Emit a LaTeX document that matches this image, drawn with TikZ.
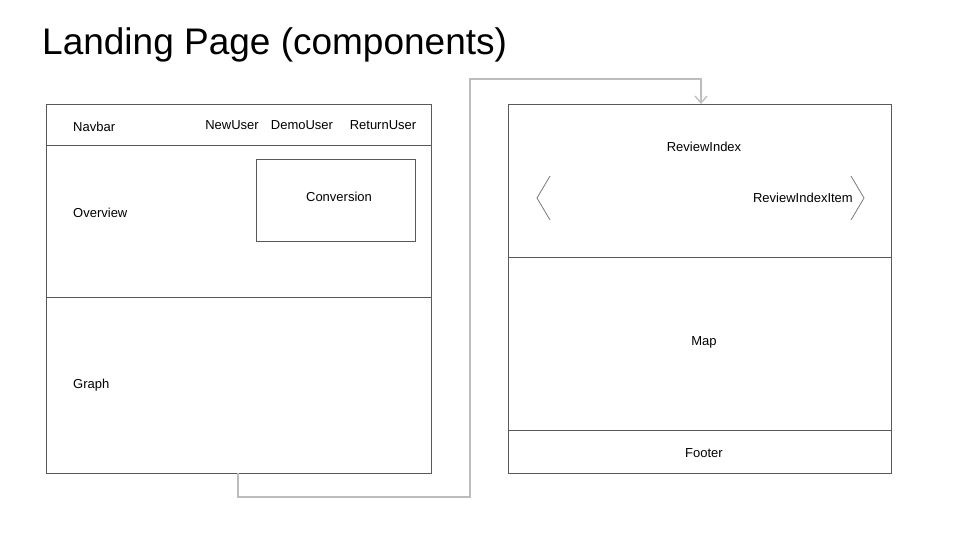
\documentclass[tikz,border=0pt]{standalone}
\usepackage{fontspec}
\setmainfont{Liberation Sans}
\usetikzlibrary{arrows.meta}
\definecolor{frame}{HTML}{595959}
\definecolor{link}{HTML}{BDBDBD}
\begin{document}
\begin{tikzpicture}[x=1pt,y=-1pt,
  panel/.style={draw=frame,line width=1pt,rectangle,inner sep=0pt,anchor=north west},
  sep/.style={draw=frame,line width=1pt},
  lbl/.style={inner sep=0pt,font=\fontsize{13}{15}\selectfont},
  conn/.style={draw=link,line width=2pt,-{Straight Barb[length=7pt,width=12pt,line width=1.3pt]}},
  chev/.style={draw=frame!80,line width=0.8pt}]
\useasboundingbox (0,0) rectangle (960,540);

% title
\node[anchor=base west,inner sep=0pt,font=\fontsize{37}{44}\selectfont] (title) at (42,55) {Landing Page (components)};

% left page: navbar, overview, graph
\node[panel,minimum width=385pt,minimum height=369pt] (lp) at (46,104) {};
\draw[sep] (46,146) -- (431,146);
\draw[sep] (46,297) -- (431,297);
\node[panel,minimum width=159pt,minimum height=82pt] (conv) at (256,159) {};

\node[lbl,anchor=west] (navbar) at (73,127) {Navbar};
\node[lbl] (newuser) at (232,125) {NewUser};
\node[lbl] (demouser) at (302,125) {DemoUser};
\node[lbl] (returnuser) at (383,125) {ReturnUser};
\node[lbl,anchor=west] (overview) at (73,213) {Overview};
\node[lbl] (conversion) at (339,197) {Conversion};
\node[lbl,anchor=west] (graph) at (73,385) {Graph};

% right page: review index, map, footer
\node[panel,minimum width=383pt,minimum height=369pt] (rp) at (508,104) {};
\draw[sep] (508,257) -- (891,257);
\draw[sep] (508,430) -- (891,430);

\node[lbl] (reviewindex) at (704,147) {ReviewIndex};
\node[lbl,anchor=east] (reviewitem) at (853,198) {ReviewIndexItem};
\node[lbl] (map) at (704,342) {Map};
\node[lbl] (footer) at (704,453) {Footer};

% carousel chevrons
\draw[chev] (550,176) -- (537,198) -- (550,220);
\draw[chev] (851,176) -- (864,198) -- (851,220);

% flow from the left page to the right page
\coordinate (cstart) at (238,473);
\coordinate (cend) at (701,104);
\draw[conn] (cstart) -- (238,497) -| (470,79) -| (cend);
\end{tikzpicture}
\end{document}
